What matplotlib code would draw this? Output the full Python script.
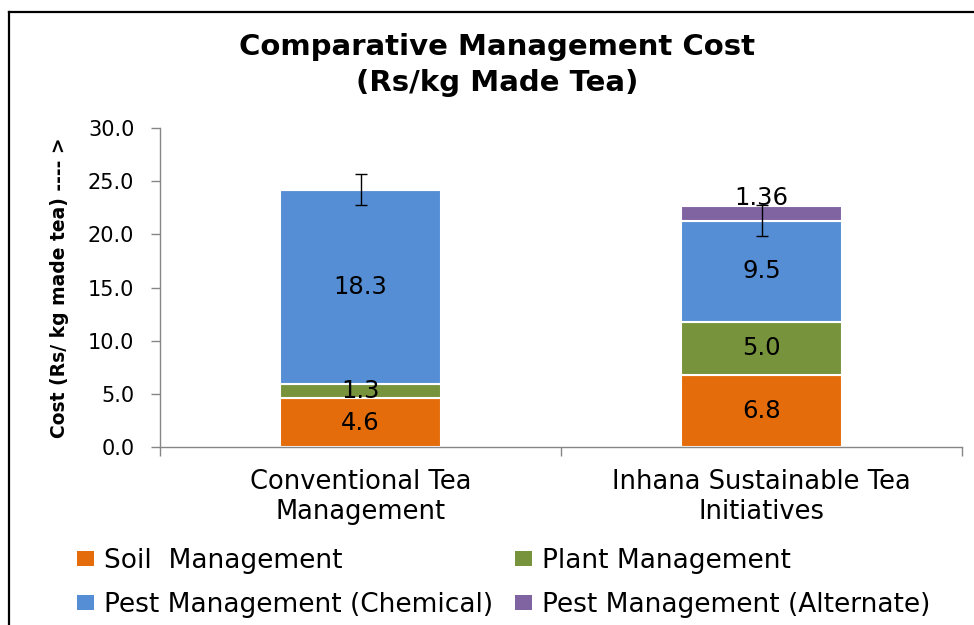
import matplotlib
matplotlib.use("Agg")
import matplotlib.pyplot as plt
import numpy as np
from matplotlib.lines import Line2D
from matplotlib.patches import Patch

# ---- data ----
categories = ["Conventional Tea\nManagement", "Inhana Sustainable Tea\nInitiatives"]
series_names = ["Soil  Management", "Plant Management",
                "Pest Management (Chemical)", "Pest Management (Alternate)"]
soil = [4.6, 6.8]
plant = [1.3, 5.0]
pest_chem = [18.3, 9.5]
pest_alt = [0.0, 1.36]
soil_labels = ["4.6", "6.8"]
plant_labels = ["1.3", "5.0"]
chem_labels = ["18.3", "9.5"]
alt_labels = ["", "1.36"]
chem_err = [1.45, 1.45]
yticks = [0, 5, 10, 15, 20, 25, 30]

colors = ["#E46C0A", "#77933C", "#558ED5", "#8064A2"]

W, H = 974, 625
fig = plt.figure(figsize=(W / 100, H / 100), dpi=100)
ax = fig.add_axes([160 / W, 1 - 447 / H, (962 - 160) / W, (447 - 128) / H])

x = np.arange(len(categories))
bw = 0.4
series = [soil, plant, pest_chem, pest_alt]
labels = [soil_labels, plant_labels, chem_labels, alt_labels]
bottom = np.zeros(len(categories))
chem_tops = None
for i, (vals, labs) in enumerate(zip(series, labels)):
    vals = np.array(vals)
    bars = ax.bar(x, vals, bw, bottom=bottom, color=colors[i],
                  edgecolor="white", linewidth=1.5, zorder=2)
    for j, lab in enumerate(labs):
        if not lab:
            continue
        cy = bottom[j] + vals[j] / 2
        off = 11 if i == 3 else 0
        ax.annotate(lab, (x[j], cy), xytext=(0, off), textcoords="offset points",
                    ha="center", va="center", fontsize=17.5, color="black",
                    zorder=5)
    if i == 2:
        chem_tops = bottom + vals
    bottom = bottom + vals

ax.errorbar(x, chem_tops, yerr=chem_err, fmt="none", ecolor="black",
            elinewidth=1, capsize=4.5, capthick=1, zorder=4)

ax.set_xlim(-0.5, 1.5)
ax.set_ylim(0, 30)
ax.set_yticks(yticks)
ax.set_yticklabels([f"{v:.1f}" for v in yticks], fontsize=15)
ax.set_xticks(x)
ax.set_xticklabels(categories, fontsize=18.5, linespacing=1.2)
ax.set_xticks([-0.5, 0.5, 1.5], minor=True)
ax.tick_params(axis="x", which="major", length=0, pad=16)
ax.tick_params(axis="x", which="minor", length=6.5, color="#868686", width=1,
               direction="out")
ax.tick_params(axis="y", length=6.5, color="#868686", width=1, direction="out",
               pad=12)
for s in ["top", "right"]:
    ax.spines[s].set_visible(False)
for s in ["left", "bottom"]:
    ax.spines[s].set_color("#868686")
    ax.spines[s].set_linewidth(1)

# y-axis label
fig.text(60 / W, 1 - 288 / H, "Cost (Rs/ kg made tea) ---- >", rotation=90,
         ha="center", va="center", fontsize=13.5, fontweight="bold")

# title
fig.text(497 / W, 1 - 65 / H, "Comparative Management Cost\n(Rs/kg Made Tea)",
         ha="center", va="center", fontsize=21, fontweight="bold",
         linespacing=1.35)

# legend (column-major fill: col1 = Soil, Chemical; col2 = Plant, Alternate)
order = [0, 2, 1, 3]
handles = [Patch(facecolor=colors[k], edgecolor="none") for k in order]
names = [series_names[k] for k in order]
fig.legend(handles, names, ncol=2, loc="upper left",
           bbox_to_anchor=(77 / W, 1 - 548 / H), frameon=False, fontsize=19,
           handlelength=0.64, handleheight=0.5, handletextpad=0.38,
           columnspacing=0.83, labelspacing=0.69, borderpad=0, borderaxespad=0)

# outer frame (partial, as cropped in the reference)
fig.add_artist(Line2D([9 / W, 9 / W], [0, 1 - 12 / H], transform=fig.transFigure,
                      color="black", linewidth=1.6))
fig.add_artist(Line2D([9 / W, 1], [1 - 12 / H, 1 - 12 / H], transform=fig.transFigure,
                      color="black", linewidth=1.6))

fig.savefig("out.png", dpi=100)
